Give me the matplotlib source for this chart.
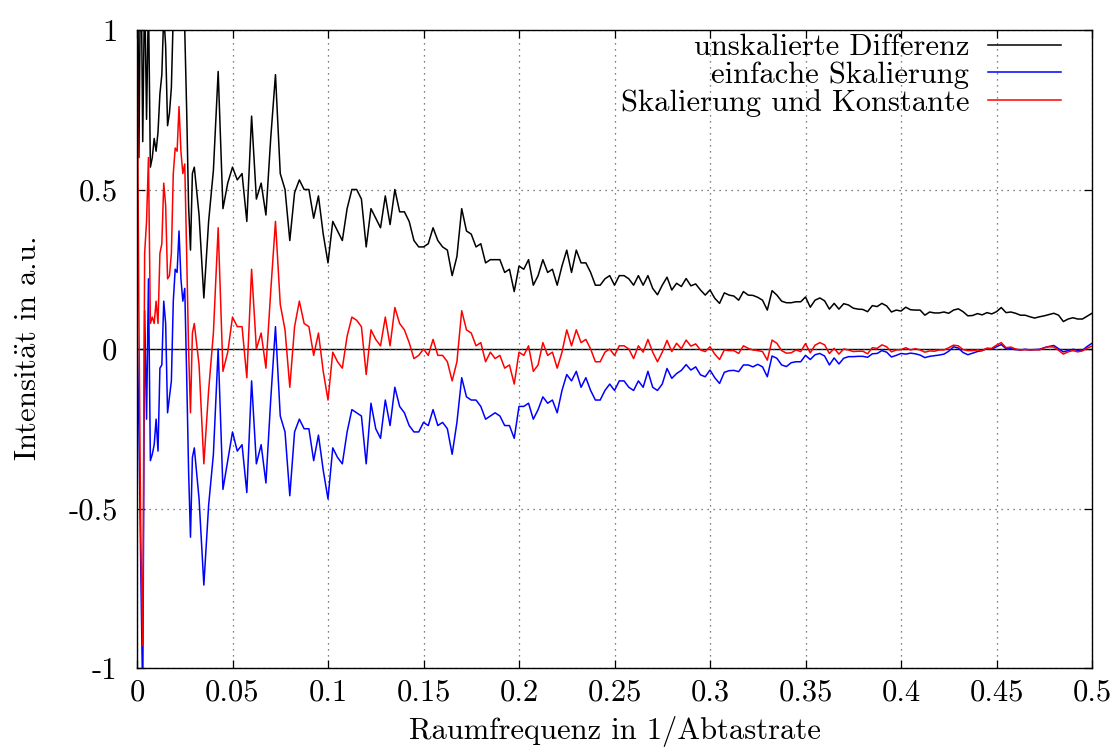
import numpy as np
import matplotlib
matplotlib.use("Agg")
import matplotlib.pyplot as plt

plt.rcParams['font.family'] = ['cmr10', 'DejaVu Serif']
plt.rcParams['mathtext.fontset'] = 'cm'
plt.rcParams['axes.unicode_minus'] = False

# spatial frequency samples: 0.001 steps up to 0.029, then 0.0025 steps up to 0.5
freq = np.concatenate([np.arange(30) * 0.001, 0.03 + np.arange(189) * 0.0025])

# --- unscaled difference ---------------------------------------------------
unscaled_fine = [1.55, 0.60, 1.30, 0.65, 1.15, 0.72, 1.10, 0.57, 0.60, 0.66,
                 0.62, 0.68, 0.80, 0.86, 1.05, 0.95, 0.70, 0.74, 0.82, 1.05,
                 1.12, 1.12, 1.25, 1.10, 1.05, 1.00, 0.75, 0.45, 0.31, 0.55]
unscaled = [
    0.57, 0.42, 0.16, 0.40, 0.56, 0.87, 0.44, 0.52, 0.57, 0.53,   # 0.030-
    0.55, 0.40, 0.73, 0.47, 0.52, 0.42, 0.66, 0.86, 0.55, 0.50,   # 0.055-
    0.34, 0.49, 0.53, 0.50, 0.50, 0.41, 0.48, 0.36, 0.27, 0.40,   # 0.080-
    0.37, 0.34, 0.44, 0.50, 0.50, 0.47, 0.32, 0.44, 0.41, 0.38,   # 0.105-
    0.48, 0.39, 0.50, 0.43, 0.43, 0.40, 0.34, 0.32, 0.32, 0.33,   # 0.130-
    0.38, 0.34, 0.32, 0.31, 0.23, 0.29, 0.44, 0.37, 0.36, 0.32,   # 0.155-
    0.33, 0.27, 0.28, 0.28, 0.28, 0.24, 0.25, 0.18, 0.26, 0.25,   # 0.180-
    0.28, 0.20, 0.23, 0.28, 0.24, 0.25, 0.20, 0.26, 0.31, 0.24,   # 0.205-
    0.31, 0.27, 0.27, 0.24, 0.20, 0.20, 0.22, 0.23, 0.20, 0.23,   # 0.230-
    0.23, 0.22, 0.20, 0.23, 0.20, 0.23, 0.19, 0.17, 0.20, 0.225,  # 0.255-
    0.185, 0.206, 0.196, 0.221, 0.198, 0.204, 0.185, 0.169, 0.185, 0.159,  # 0.280-
    0.143, 0.176, 0.169, 0.166, 0.153, 0.180, 0.169, 0.168, 0.162, 0.153,  # 0.305-
    0.122, 0.183, 0.169, 0.150, 0.145, 0.145, 0.148, 0.148, 0.163, 0.131,  # 0.330-
    0.153, 0.160, 0.151, 0.125, 0.143, 0.125, 0.142, 0.138, 0.128, 0.125,  # 0.355-
    0.124, 0.117, 0.136, 0.133, 0.143, 0.135, 0.116, 0.122, 0.119, 0.131,  # 0.380-
    0.123, 0.122, 0.122, 0.106, 0.116, 0.113, 0.113, 0.116, 0.112, 0.122,  # 0.405-
    0.126, 0.117, 0.104, 0.105, 0.111, 0.107, 0.114, 0.110, 0.117, 0.130,  # 0.430-
    0.114, 0.116, 0.112, 0.106, 0.106, 0.101, 0.097, 0.101, 0.104, 0.108,  # 0.455-
    0.112, 0.106, 0.086, 0.094, 0.098, 0.094, 0.094, 0.103, 0.112,         # 0.480-0.500
]

# --- simple scaling --------------------------------------------------------
simple_fine = [0.09, -0.25, -0.70, -1.10, 0.12, -0.22, 0.22, -0.35, -0.33, -0.30,
               -0.22, -0.32, -0.06, -0.05, 0.15, 0.08, -0.20, -0.15, -0.10, 0.15,
               0.25, 0.24, 0.37, 0.22, 0.15, 0.19, -0.08, -0.38, -0.59, -0.34]
simple = [
    -0.31, -0.47, -0.74, -0.49, -0.33, 0.00, -0.44, -0.35, -0.26, -0.32,   # 0.030-
    -0.30, -0.45, -0.10, -0.36, -0.30, -0.42, -0.16, 0.07, -0.21, -0.26,   # 0.055-
    -0.46, -0.26, -0.22, -0.25, -0.25, -0.35, -0.27, -0.38, -0.47, -0.31,  # 0.080-
    -0.34, -0.36, -0.26, -0.19, -0.20, -0.21, -0.36, -0.17, -0.25, -0.28,  # 0.105-
    -0.16, -0.24, -0.12, -0.18, -0.20, -0.24, -0.26, -0.26, -0.23, -0.24,  # 0.130-
    -0.19, -0.24, -0.23, -0.25, -0.33, -0.23, -0.09, -0.15, -0.16, -0.16,  # 0.155-
    -0.18, -0.22, -0.21, -0.20, -0.21, -0.24, -0.24, -0.28, -0.18, -0.18,  # 0.180-
    -0.17, -0.22, -0.19, -0.15, -0.17, -0.16, -0.20, -0.13, -0.08, -0.10,  # 0.205-
    -0.07, -0.12, -0.09, -0.13, -0.16, -0.16, -0.13, -0.11, -0.13, -0.10,  # 0.230-
    -0.10, -0.12, -0.13, -0.10, -0.12, -0.07, -0.12, -0.13, -0.11, -0.061,  # 0.255-
    -0.092, -0.077, -0.067, -0.049, -0.066, -0.056, -0.081, -0.087, -0.066, -0.090,  # 0.280-
    -0.108, -0.073, -0.068, -0.067, -0.071, -0.050, -0.050, -0.056, -0.048, -0.056,  # 0.305-
    -0.087, -0.022, -0.029, -0.050, -0.055, -0.043, -0.040, -0.040, -0.020, -0.033,  # 0.330-
    -0.018, -0.014, -0.022, -0.050, -0.028, -0.047, -0.029, -0.024, -0.024, -0.023,  # 0.355-
    -0.023, -0.026, -0.015, -0.014, -0.005, -0.010, -0.025, -0.020, -0.014, -0.016,  # 0.380-
    -0.013, -0.015, -0.019, -0.027, -0.023, -0.021, -0.019, -0.016, -0.007, 0.007,   # 0.405-
    0.003, -0.011, -0.018, -0.013, -0.008, -0.005, 0.002, 0.000, 0.007, 0.014,       # 0.430-
    0.001, 0.001, -0.002, -0.003, -0.001, -0.003, -0.002, -0.001, 0.004, 0.008,      # 0.455-
    0.011, 0.001, -0.009, -0.005, -0.001, -0.004, -0.004, 0.008, 0.018,              # 0.480-0.500
]

# --- scaling with constant -------------------------------------------------
const_fine = [1.05, 0.10, -0.60, -0.93, 0.30, 0.40, 0.60, 0.08, 0.10, 0.08,
              0.15, 0.08, 0.30, 0.33, 0.52, 0.45, 0.22, 0.23, 0.30, 0.55,
              0.63, 0.62, 0.76, 0.62, 0.55, 0.58, 0.30, 0.00, -0.20, 0.05]
const = [
    0.08, -0.05, -0.36, -0.13, 0.05, 0.38, -0.07, -0.01, 0.10, 0.07,     # 0.030-
    0.07, -0.09, 0.25, 0.00, 0.05, -0.06, 0.18, 0.40, 0.14, 0.06,        # 0.055-
    -0.12, 0.07, 0.15, 0.08, 0.07, -0.02, 0.05, -0.07, -0.16, -0.01,     # 0.080-
    -0.04, -0.06, 0.04, 0.10, 0.09, 0.07, -0.08, 0.06, 0.03, 0.01,       # 0.105-
    0.10, 0.01, 0.13, 0.08, 0.06, 0.02, -0.03, -0.02, 0.00, -0.02,       # 0.130-
    0.03, -0.02, -0.02, -0.04, -0.10, -0.04, 0.12, 0.06, 0.05, 0.01,     # 0.155-
    0.02, -0.04, -0.01, -0.03, -0.02, -0.06, -0.05, -0.11, -0.01, -0.02, # 0.180-
    0.01, -0.07, -0.05, 0.02, -0.02, -0.01, -0.06, -0.01, 0.06, 0.01,    # 0.205-
    0.06, 0.02, 0.03, 0.00, -0.04, -0.04, -0.01, 0.00, -0.02, 0.01,      # 0.230-
    0.01, 0.00, -0.03, 0.01, -0.01, 0.03, -0.01, -0.04, -0.01, 0.027,    # 0.255-
    -0.008, 0.018, 0.001, 0.028, 0.009, 0.016, -0.003, -0.008, 0.007, -0.016,   # 0.280-
    -0.033, -0.003, -0.005, -0.005, -0.014, 0.010, 0.002, -0.003, -0.005, -0.008,  # 0.305-
    -0.035, 0.028, 0.018, -0.005, -0.013, -0.012, -0.003, -0.008, 0.017, -0.012,  # 0.330-
    0.012, 0.020, 0.013, -0.014, 0.002, -0.016, 0.000, -0.003, -0.008, -0.007,    # 0.355-
    -0.007, -0.015, 0.004, 0.002, 0.013, 0.007, -0.009, -0.003, -0.002, 0.004,    # 0.380-
    -0.003, 0.001, -0.003, -0.010, -0.006, -0.007, -0.003, -0.003, 0.004, 0.012,  # 0.405-
    0.010, -0.002, -0.005, -0.005, -0.003, -0.005, 0.002, 0.002, 0.012, 0.020,    # 0.430-
    0.004, 0.006, 0.000, -0.003, -0.002, -0.003, -0.002, -0.003, 0.004, 0.007,    # 0.455-
    0.006, -0.004, -0.016, -0.009, -0.005, -0.009, -0.006, 0.003, 0.009,          # 0.480-0.500
]

series = [
    ("unskalierte Differenz", unscaled_fine + unscaled, "#000000"),
    ("einfache Skalierung", simple_fine + simple, "#0000ff"),
    ("Skalierung und Konstante", const_fine + const, "#ff0000"),
]

xticks = [0, 0.05, 0.1, 0.15, 0.2, 0.25, 0.3, 0.35, 0.4, 0.45, 0.5]
xtick_labels = ["0", "0.05", "0.1", "0.15", "0.2", "0.25", "0.3", "0.35", "0.4", "0.45", "0.5"]
yticks = [-1, -0.5, 0, 0.5, 1]
ytick_labels = ["-1", "-0.5", "0", "0.5", "1"]

W, H = 1119, 747
fig = plt.figure(figsize=(W / 100, H / 100), dpi=100)
ax = fig.add_axes([137 / W, 1 - 668 / H, (1092 - 137) / W, (668 - 30) / H])

ax.axhline(0, color="black", linewidth=1.0, zorder=1.5)
for label, values, color in series:
    ax.plot(freq, np.asarray(values), color=color, linewidth=1.1, label=label, zorder=2)

ax.set_xlim(0, 0.5)
ax.set_ylim(-1, 1)
ax.set_xticks(xticks)
ax.set_xticklabels(xtick_labels)
ax.set_yticks(yticks)
ax.set_yticklabels(ytick_labels)
ax.tick_params(direction="in", length=6, width=0.9, top=True, right=True,
               labelsize=22)
ax.tick_params(axis="x", pad=8)
ax.tick_params(axis="y", pad=14)
ax.grid(True, color="#555555", linestyle=(0, (1, 3.8)), linewidth=0.9)
for sp in ax.spines.values():
    sp.set_linewidth(1.0)

ax.set_xlabel("Raumfrequenz in 1/Abtastrate", fontsize=22, labelpad=7)
ax.set_ylabel(r"Intensit$\ddot{\mathrm{a}}$t in a.u.", fontsize=22, labelpad=19)

leg = ax.legend(loc="upper right", bbox_to_anchor=(1061 / W, 1 - 34 / H),
                bbox_transform=fig.transFigure, frameon=False, markerfirst=False,
                fontsize=22, handlelength=2.4, handletextpad=0.6,
                labelspacing=0.0, borderpad=0, borderaxespad=0)

fig.savefig("out.png", dpi=100)
